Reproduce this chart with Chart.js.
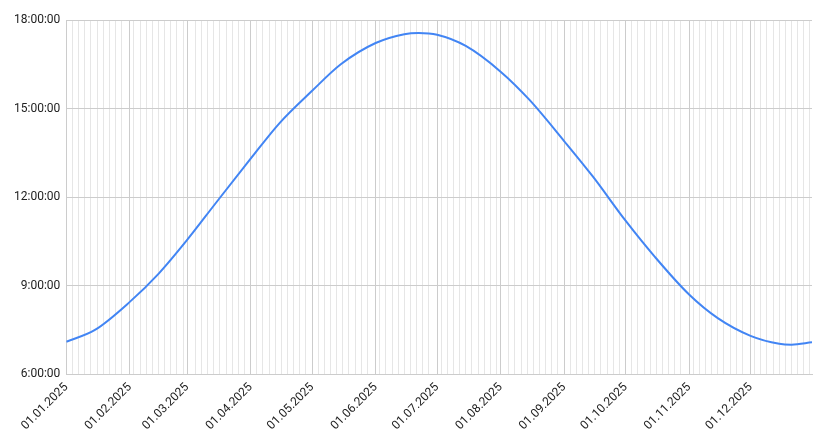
<!DOCTYPE html>
<html>
<head>
<meta charset="utf-8">
<script src="https://cdn.jsdelivr.net/npm/chart.js@4"></script>
<style>
  html, body { margin: 0; padding: 0; background: #fff; }
  #wrap { width: 828px; height: 441px; }
</style>
</head>
<body>
<div id="wrap"><canvas id="chart"></canvas></div>
<script>
// day of year (0 = 01.01.2025) and day length in hours
const days = [0, 14, 31, 45, 59, 73, 90, 104, 120, 134, 151, 165, 172, 181, 195, 212, 226, 243, 257, 273, 287, 304, 318, 334, 348, 354, 364];
const hours = [7.1, 7.5, 8.45, 9.4, 10.55, 11.8, 13.3, 14.5, 15.6, 16.5, 17.22, 17.52, 17.56, 17.5, 17.12, 16.25, 15.3, 13.9, 12.7, 11.2, 10.0, 8.7, 7.9, 7.3, 7.03, 7.0, 7.08];
const monthStarts = [0, 31, 59, 90, 120, 151, 181, 212, 243, 273, 304, 334];
const monthLabels = ['01.01.2025', '01.02.2025', '01.03.2025', '01.04.2025', '01.05.2025', '01.06.2025',
  '01.07.2025', '01.08.2025', '01.09.2025', '01.10.2025', '01.11.2025', '01.12.2025'];
const yTicks = [6, 9, 12, 15, 18];

const fmt = h => Math.round(h) + ':00:00';

new Chart(document.getElementById('chart'), {
  type: 'line',
  data: {
    datasets: [{
      data: days.map((d, i) => ({ x: d, y: hours[i] })),
      borderColor: '#4285f4',
      borderWidth: 2,
      pointRadius: 0,
      cubicInterpolationMode: 'monotone',
      fill: false
    }]
  },
  options: {
    responsive: true,
    maintainAspectRatio: false,
    animation: false,
    layout: { padding: { top: 20, right: 16, left: 8, bottom: 2 } },
    plugins: { legend: { display: false }, tooltip: { enabled: false } },
    scales: {
      x: {
        type: 'linear',
        min: 0,
        max: 364,
        afterBuildTicks: axis => {
          const t = [];
          for (let d = 0; d <= 364; d += 3) if (!monthStarts.some(m => Math.abs(m - d) < 2)) t.push({ value: d });
          monthStarts.forEach(m => t.push({ value: m }));
          t.sort((a, b) => a.value - b.value);
          axis.ticks = t;
        },
        grid: {
          color: c => monthStarts.includes(c.tick && c.tick.value) ? '#cccccc' : '#e6e6e6',
          drawTicks: false
        },
        border: { color: '#cccccc' },
        ticks: {
          autoSkip: false,
          maxRotation: 45,
          minRotation: 45,
          padding: 6,
          color: '#222',
          font: { family: 'Roboto, Arial', size: 12 },
          callback: v => {
            const i = monthStarts.indexOf(v);
            return i >= 0 ? monthLabels[i] : '';
          }
        }
      },
      y: {
        min: 6,
        max: 18,
        afterBuildTicks: axis => { axis.ticks = yTicks.map(v => ({ value: v })); },
        grid: { color: '#cccccc', drawTicks: false },
        border: { display: false },
        ticks: {
          padding: 6,
          color: '#222',
          font: { family: 'Roboto, Arial', size: 12 },
          callback: v => fmt(v)
        }
      }
    }
  }
});
</script>
</body>
</html>
